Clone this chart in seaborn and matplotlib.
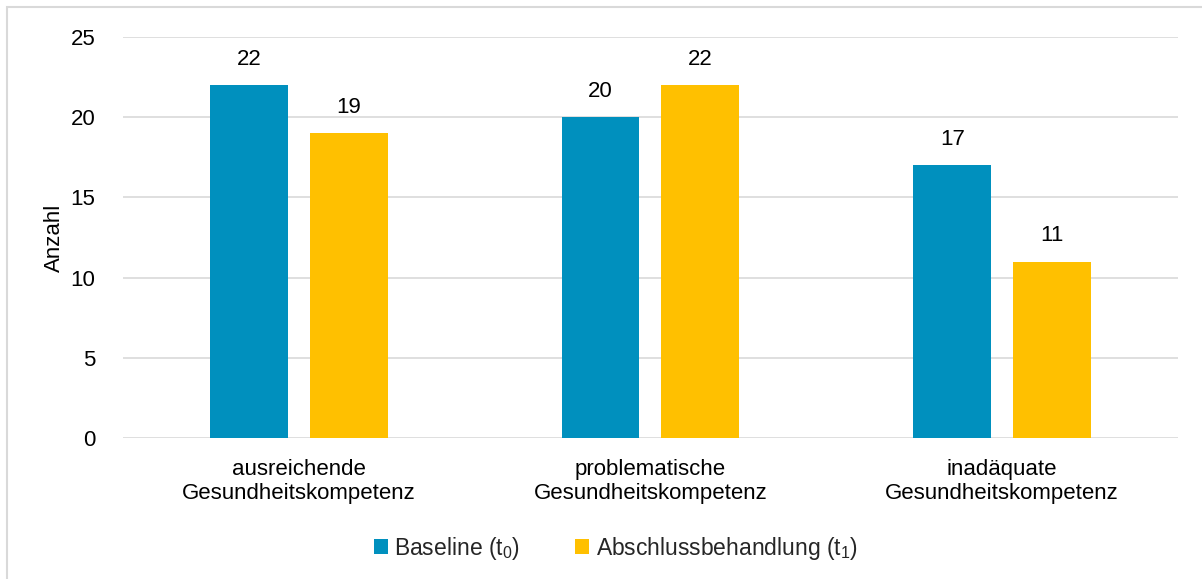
import matplotlib
matplotlib.use("Agg")
import matplotlib.pyplot as plt
import seaborn as sns
import pandas as pd
from matplotlib.patches import Rectangle

categories = ["ausreichende\nGesundheitskompetenz",
              "problematische\nGesundheitskompetenz",
              "inadäquate\nGesundheitskompetenz"]
series_names = [r"Baseline ($\mathregular{t_0}$)",
                r"Abschlussbehandlung ($\mathregular{t_1}$)"]
baseline = [22, 20, 17]
abschluss = [19, 22, 11]
colors = ["#0090BE", "#FFC000"]
y_ticks = [0, 5, 10, 15, 20, 25]

df = pd.DataFrame({
    "Kategorie": categories * 2,
    "Zeitpunkt": [series_names[0]] * 3 + [series_names[1]] * 3,
    "Anzahl": baseline + abschluss,
})

sns.set_theme(style="white")
plt.rcParams["font.family"] = ["Liberation Sans", "DejaVu Sans"]
plt.rcParams["mathtext.fontset"] = "custom"
plt.rcParams["mathtext.rm"] = "Liberation Sans"

FS = 16

fig = plt.figure(figsize=(12.02, 5.79), dpi=100)
ax = fig.add_axes([0.1023, 0.2435, 0.8777, 0.6925])

sns.barplot(data=df, x="Kategorie", y="Anzahl", hue="Zeitpunkt",
            palette=colors, width=0.568, gap=0.22, ax=ax,
            saturation=1, errorbar=None, linewidth=0, zorder=3)

for cont in ax.containers:
    ax.bar_label(cont, fmt="%d", padding=11, fontsize=FS, color="#000000")

ax.set_ylim(0, 25)
ax.set_xlim(-0.5, 2.5)
ax.set_yticks(y_ticks)
ax.yaxis.grid(True, color="#D9D9D9", linewidth=1.2, zorder=0)
ax.set_axisbelow(True)
for s in ax.spines.values():
    s.set_visible(False)
ax.tick_params(axis="y", length=0, pad=20, labelsize=FS, colors="#000000")
ax.tick_params(axis="x", length=0, pad=15, labelsize=FS, colors="#000000")
ax.set_xlabel("")
ax.set_ylabel("Anzahl", fontsize=FS, color="#000000", labelpad=4)

handles, labels = ax.get_legend_handles_labels()
ax.legend(handles, labels, loc="center", bbox_to_anchor=(616 / 1202, 1 - 548 / 579),
          bbox_transform=fig.transFigure, ncol=2, frameon=False, fontsize=16.5,
          handlelength=0.6, handleheight=0.6, handletextpad=0.3, columnspacing=2.4)

# light frame around the chart area
fig.patches.append(Rectangle((7 / 1202, -0.2), 1.2, 1.2 - 7 / 579,
                             transform=fig.transFigure, fill=False,
                             edgecolor="#D9D9D9", linewidth=1.5, zorder=0))

fig.savefig("out.png", dpi=100)
